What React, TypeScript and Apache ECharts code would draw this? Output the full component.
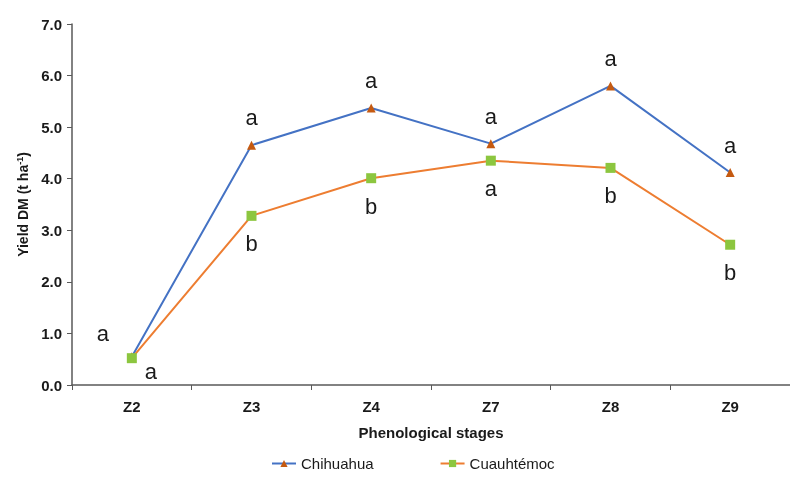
import React, { useEffect, useRef } from "react";
import * as echarts from "echarts";

const categories = ["Z2", "Z3", "Z4", "Z7", "Z8", "Z9"];
const chihuahua = [0.55, 4.65, 5.37, 4.68, 5.8, 4.12];
const cuauhtemoc = [0.52, 3.28, 4.01, 4.35, 4.21, 2.72];
const chihuahuaLetters = ["a", "a", "a", "a", "a", "a"];
const cuauhtemocLetters = ["a", "b", "b", "a", "b", "b"];
const yTicks = { min: 0, max: 7, interval: 1 };

const FONT = "'Liberation Sans', Arial, sans-serif";

export default function App() {
  const ref = useRef<HTMLDivElement>(null);
  useEffect(() => {
    if (!ref.current) return;
    const chart = echarts.init(ref.current, undefined, { renderer: "svg" });
    const letterLabel = (letters: string[], above: boolean) => ({
      show: true,
      position: above ? "top" : "bottom",
      distance: 12,
      formatter: (p: any) => letters[p.dataIndex],
      fontFamily: FONT,
      fontSize: 22,
      color: "#1a1a1a",
    });
    const chiData = chihuahua.map((v, i) =>
      i === 0 ? { value: v, label: { offset: [-29, 4] } } : v
    );
    const cuaData = cuauhtemoc.map((v, i) =>
      i === 0 ? { value: v, label: { offset: [19, -15] } } : v
    );
    chart.setOption({
      animation: false,
      textStyle: { fontFamily: FONT },
      grid: { left: 72, top: 24, width: 723, height: 361 },
      xAxis: {
        type: "category",
        data: categories,
        name: "Phenological stages",
        nameLocation: "middle",
        nameGap: 40,
        nameTextStyle: { fontSize: 15, fontWeight: "bold", color: "#1a1a1a", fontFamily: FONT },
        axisLine: { lineStyle: { color: "#595959", width: 1.5 } },
        axisTick: { show: true, length: 5, lineStyle: { color: "#595959" } },
        axisLabel: { fontSize: 15, fontWeight: "bold", color: "#1a1a1a", margin: 14, fontFamily: FONT },
        splitLine: { show: false },
      },
      yAxis: {
        type: "value",
        min: yTicks.min,
        max: yTicks.max,
        interval: yTicks.interval,
        name: "{n|Yield DM (t ha}{s|-1}{n|)}",
        nameLocation: "middle",
        nameGap: 42,
        nameTextStyle: {
          rich: {
            n: { fontSize: 14, fontWeight: "bold", color: "#1a1a1a", fontFamily: FONT },
            s: { fontSize: 9, fontWeight: "bold", color: "#1a1a1a", fontFamily: FONT, verticalAlign: "top", padding: [0, 0, 6, 0] },
          },
        },
        axisLine: { show: true, lineStyle: { color: "#595959", width: 1.5 } },
        axisTick: { show: true, length: 5, lineStyle: { color: "#595959" } },
        axisLabel: {
          fontSize: 15,
          fontWeight: "bold",
          color: "#1a1a1a",
          margin: 10,
          fontFamily: FONT,
          formatter: (v: number) => v.toFixed(1),
        },
        splitLine: { show: false },
      },
      legend: {
        bottom: 8,
        left: 266,
        itemGap: 66,
        itemWidth: 24,
        itemHeight: 9,
        textStyle: { fontSize: 15, color: "#1a1a1a", fontFamily: FONT },
        data: ["Chihuahua", "Cuauhtémoc"],
      },
      series: [
        {
          name: "Chihuahua",
          type: "line",
          data: chiData,
          symbol: "triangle",
          symbolSize: 9,
          lineStyle: { color: "#4472C4", width: 2 },
          itemStyle: { color: "#C55A11" },
          label: letterLabel(chihuahuaLetters, true),
          z: 3,
        },
        {
          name: "Cuauhtémoc",
          type: "line",
          data: cuaData,
          symbol: "rect",
          symbolSize: 10,
          lineStyle: { color: "#ED7D31", width: 2 },
          itemStyle: { color: "#8CC63F" },
          label: letterLabel(cuauhtemocLetters, false),
          z: 4,
        },
      ],
    });
    return () => chart.dispose();
  }, []);
  return <div ref={ref} style={{ width: 790, height: 484, position: "fixed", left: 0, top: 0 }} />;
}
